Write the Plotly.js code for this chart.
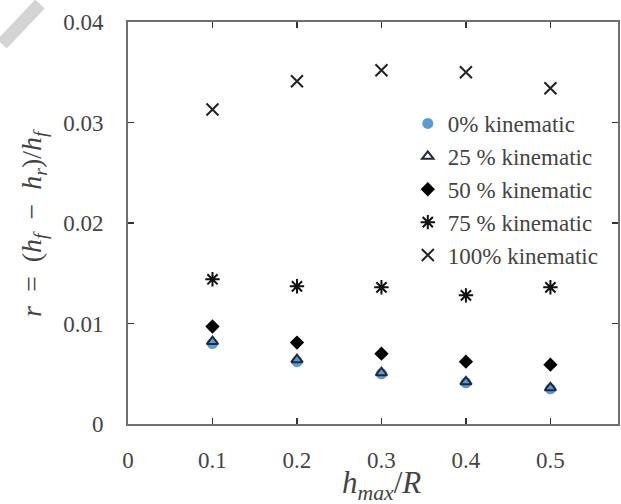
<!DOCTYPE html>
<html>
<head>
<meta charset="utf-8">
<script src="https://cdn.plot.ly/plotly-3.0.1.min.js"></script>
<style>
html,body{margin:0;padding:0;background:#fff;}
#chart{width:621px;height:504px;}
</style>
</head>
<body>
<div id="chart"></div>
<script>
var xVals = [0.1, 0.2, 0.3, 0.4, 0.5];
var k0   = [0.0080, 0.0062, 0.0050, 0.0041, 0.0035];
var k25  = [0.0082, 0.0064, 0.0051, 0.0042, 0.0036];
var k50  = [0.0097, 0.0081, 0.0070, 0.0062, 0.0059];
var k75  = [0.0144, 0.0137, 0.0136, 0.0128, 0.0136];
var k100 = [0.0313, 0.0341, 0.0352, 0.0350, 0.0334];
var seriesNames = ["0% kinematic", "25 % kinematic", "50 % kinematic", "75 % kinematic", "100% kinematic"];
var xTicks = [0, 0.1, 0.2, 0.3, 0.4, 0.5];
var xTickText = ["0", "0.1", "0.2", "0.3", "0.4", "0.5"];
var yTicks = [0, 0.01, 0.02, 0.03, 0.04];
var yTickText = ["0", "0.01", "0.02", "0.03", "0.04"];
var xTitle = '<i>h<sub>max</sub></i>/<i>R</i>';
var yTitle = '<i>r</i>&#160; = &#160;(<i>h<sub>f</sub></i>&#160; − &#160;<i>h<sub>r</sub></i>)/<i>h<sub>f</sub></i>';

var traces = [
  {x: xVals, y: k0, name: seriesNames[0], type: 'scatter', mode: 'markers',
   marker: {symbol: 'circle', size: 11, color: '#5b9bd5', line: {width: 0}}},
  {x: xVals, y: k25, name: seriesNames[1], type: 'scatter', mode: 'markers',
   marker: {symbol: 'triangle-up-open', size: 10, color: '#1f2a3a', line: {width: 2}}},
  {x: xVals, y: k50, name: seriesNames[2], type: 'scatter', mode: 'markers',
   marker: {symbol: 'diamond', size: 11, color: '#000000', line: {width: 0}}},
  {x: xVals, y: k75, name: seriesNames[3], type: 'scatter', mode: 'markers',
   marker: {symbol: 'asterisk-open', size: 12, color: '#111111', line: {width: 2, color: '#111111'}}},
  {x: xVals, y: k100, name: seriesNames[4], type: 'scatter', mode: 'markers',
   marker: {symbol: 'x-thin-open', size: 12, color: '#222222', line: {width: 2, color: '#222222'}}}
];

var fam = 'Liberation Serif';
var layout = {
  width: 621, height: 504,
  font: {family: fam},
  margin: {l: 128, r: 3, t: 22, b: 80},
  showlegend: true,
  legend: {x: 0.571, y: (424 - 102) / 402, xanchor: 'left', yanchor: 'top',
           bgcolor: 'rgba(0,0,0,0)', borderwidth: 0,
           font: {family: fam, size: 23}},
  xaxis: {
    range: [0, 0.58], tickvals: xTicks, ticktext: xTickText,
    ticks: 'inside', ticklen: 6, tickwidth: 1.5, tickcolor: '#333',
    showline: true, linecolor: '#707070', linewidth: 2, mirror: 'ticks',
    showgrid: false, zeroline: false,
    ticklabelstandoff: 14,
    tickfont: {family: fam, size: 23}
  },
  yaxis: {
    range: [0, 0.04], tickvals: yTicks, ticktext: yTickText,
    ticks: 'inside', ticklen: 6, tickwidth: 1.5, tickcolor: '#333',
    showline: true, linecolor: '#707070', linewidth: 2, mirror: 'ticks',
    showgrid: false, zeroline: false,
    ticklabelstandoff: 18,
    tickfont: {family: fam, size: 23}
  },
  annotations: [
    {text: xTitle, xref: 'paper', yref: 'paper', x: (381 - 128) / 490, y: (424 - 485) / 402,
     xanchor: 'center', yanchor: 'middle', showarrow: false,
     font: {family: fam, size: 31}},
    {text: yTitle, xref: 'paper', yref: 'paper', x: (33 - 128) / 490, y: 0.5,
     xanchor: 'center', yanchor: 'middle', showarrow: false, textangle: -90,
     font: {family: fam, size: 28}}
  ],
  shapes: [
    {type: 'line', xref: 'paper', yref: 'paper',
     x0: (40 - 128) / 490, y0: (424 - 4) / 402, x1: (2 - 128) / 490, y1: (424 - 44) / 402,
     line: {color: '#d4d4d4', width: 13}, layer: 'below'}
  ]
};

function forceSerif(gd) {
  var nodes = gd.querySelectorAll('text, tspan');
  for (var i = 0; i < nodes.length; i++) {
    nodes[i].setAttribute('font-family', fam);
    nodes[i].style.setProperty('font-family', fam, 'important');
  }
}

Plotly.newPlot('chart', traces, layout, {displayModeBar: false, staticPlot: true}).then(function(gd) {
  forceSerif(gd);
  gd.on('plotly_afterplot', function() { forceSerif(gd); });
});
</script>
</body>
</html>
